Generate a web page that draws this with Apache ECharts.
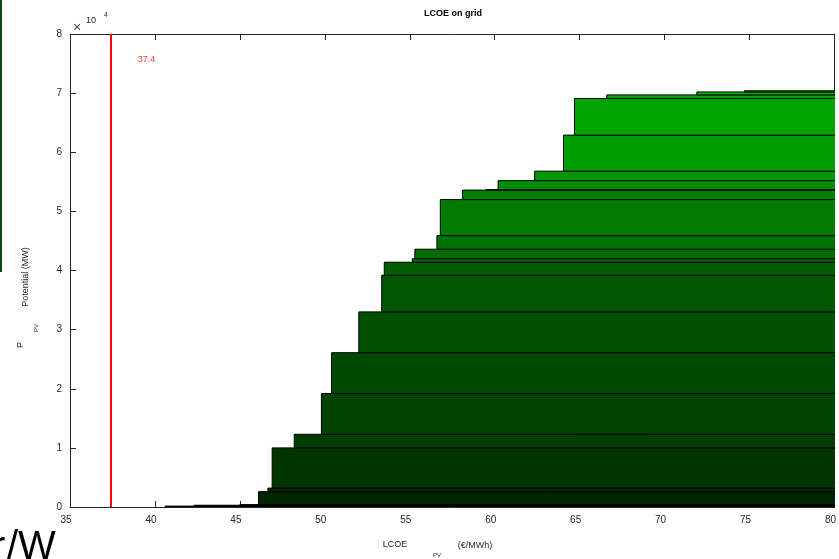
<!DOCTYPE html>
<html>
<head>
<meta charset="utf-8">
<script src="https://cdn.jsdelivr.net/npm/echarts@6/dist/echarts.min.js"></script>
<style>
  html, body { margin: 0; padding: 0; background: #fff; }
  #chart { width: 839px; height: 559px; }
</style>
</head>
<body>
<div id="chart"></div>
<script>
// LCOE of each region (sorted) and cumulative PV potential (MW) after adding it
const lcoe = [40.6, 42.3, 45.0, 46.1, 46.65, 46.9, 48.2, 49.8, 50.4, 52.0, 53.35, 53.5,
  55.15, 55.3, 56.6, 56.8, 58.1, 59.5, 60.2, 62.35, 64.05, 64.7, 66.6, 71.9, 74.7];
const cumPotential = [150, 300, 400, 2600, 3200, 10000, 12300, 19200, 26100, 33000, 39200, 41400,
  42000, 43600, 45900, 52000, 53600, 53700, 55200, 56800, 62900, 69100, 69700, 70200, 70400];
const gridLcoe = 37.4;
const xTicks = { min: 35, max: 80, interval: 5 };
const yTicks = { min: 0, max: 80000, interval: 10000 };

const font = '"Liberation Sans", Arial, sans-serif';
const ink = '#262626';

const rects = lcoe.map((x, i) => [x, i === 0 ? 0 : cumPotential[i - 1], cumPotential[i]]);

function bandColor(i) {
  const g = Math.min(200, 10 + 7 * (i + 1));
  return 'rgb(0,' + g + ',0)';
}

const chart = echarts.init(document.getElementById('chart'));

const baseAxis = {
  axisLine: { show: true, onZero: false, lineStyle: { color: ink, width: 1 } },
  axisTick: { show: true, inside: true, length: 6, lineStyle: { color: ink } },
  splitLine: { show: false },
  axisLabel: { show: false }
};

const option = {
  animation: false,
  grid: { left: 70, right: 3, top: 34, bottom: 52, containLabel: false },
  xAxis: [
    Object.assign({}, baseAxis, {
      type: 'value', position: 'bottom', min: xTicks.min, max: xTicks.max, interval: xTicks.interval,
      axisLabel: { show: true, color: ink, fontSize: 10, fontFamily: font, margin: 8, padding: [0, 8, 0, 0] }
    }),
    Object.assign({}, baseAxis, {
      type: 'value', position: 'top', min: xTicks.min, max: xTicks.max, interval: xTicks.interval
    })
  ],
  yAxis: [
    Object.assign({}, baseAxis, {
      type: 'value', position: 'left', min: yTicks.min, max: yTicks.max, interval: yTicks.interval,
      axisLabel: {
        show: true, color: ink, fontSize: 10, fontFamily: font, margin: 8, padding: [0, 0, 6, 0],
        formatter: v => String(v / 10000)
      }
    }),
    Object.assign({}, baseAxis, {
      type: 'value', position: 'right', min: yTicks.min, max: yTicks.max, interval: yTicks.interval
    })
  ],
  series: [
    {
      type: 'custom',
      clip: true,
      data: rects,
      encode: { x: 0, y: [1, 2] },
      renderItem: function (params, api) {
        const x0 = api.value(0), y0 = api.value(1), y1 = api.value(2);
        const p0 = api.coord([x0, y1]);
        const p1 = api.coord([xTicks.max + 2, y0]);
        return {
          type: 'rect',
          shape: { x: p0[0], y: p0[1], width: p1[0] - p0[0], height: p1[1] - p0[1] },
          style: { fill: bandColor(params.dataIndex), stroke: '#000', lineWidth: 1 }
        };
      },
      z: 2
    },
    {
      type: 'line',
      data: [],
      markLine: {
        silent: true,
        symbol: 'none',
        label: { show: false },
        lineStyle: { color: '#ff0000', width: 2, type: 'solid' },
        data: [{ xAxis: gridLcoe }]
      },
      z: 3
    },
    {
      type: 'scatter',
      symbolSize: 0,
      data: [[gridLcoe + 2.1, 75600]],
      label: {
        show: true, position: 'inside', formatter: String(gridLcoe),
        color: '#ff0000', fontSize: 9, fontFamily: font
      },
      z: 4
    }
  ],
  graphic: [
    { type: 'text', x: 453, y: 14, style: { text: 'LCOE on grid', fill: '#000', font: 'bold 9px ' + font, align: 'center', verticalAlign: 'middle' } },
    { type: 'text', x: 77, y: 28, style: { text: '×', fill: '#444', font: '14px ' + font, align: 'center', verticalAlign: 'middle' } },
    { type: 'text', x: 91, y: 21, style: { text: '10', fill: ink, font: '9px ' + font, align: 'center', verticalAlign: 'middle' } },
    { type: 'text', x: 106, y: 15, style: { text: '4', fill: ink, font: '7px ' + font, align: 'center', verticalAlign: 'middle' } },
    { type: 'text', x: 395, y: 545, style: { text: 'LCOE', fill: ink, font: '9px ' + font, align: 'center', verticalAlign: 'middle' } },
    { type: 'text', x: 437, y: 555, style: { text: 'PV', fill: ink, font: '6px ' + font, align: 'center', verticalAlign: 'middle' } },
    { type: 'text', x: 475, y: 546, style: { text: '(€/MWh)', fill: ink, font: '9px ' + font, align: 'center', verticalAlign: 'middle' } },
    { type: 'text', x: 26, y: 277, rotation: Math.PI / 2, style: { text: 'Potential (MW)', fill: ink, font: '9px ' + font, align: 'center', verticalAlign: 'middle' } },
    { type: 'text', x: 36, y: 328, rotation: Math.PI / 2, style: { text: 'PV', fill: ink, font: '6px ' + font, align: 'center', verticalAlign: 'middle' } },
    { type: 'text', x: 21, y: 345, rotation: Math.PI / 2, style: { text: 'P', fill: ink, font: '9px ' + font, align: 'center', verticalAlign: 'middle' } },
    // pieces of a neighbouring figure cropped into the left edge
    { type: 'line', shape: { x1: 1, y1: 0, x2: 1, y2: 272 }, style: { stroke: '#0b4a0b', lineWidth: 2 } },
    { type: 'text', x: -8, y: 548, style: { text: 'r', fill: '#000', font: '40px ' + font, verticalAlign: 'middle' } },
    { type: 'text', x: 7, y: 548, style: { text: '/W', fill: '#000', font: '40px ' + font, verticalAlign: 'middle' } }
  ]
};

chart.setOption(option);
</script>
</body>
</html>
